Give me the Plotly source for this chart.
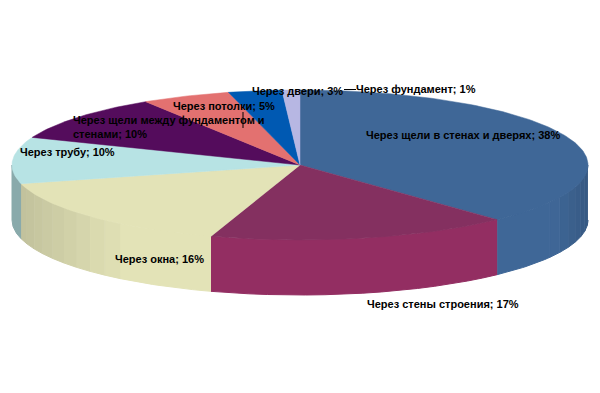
import math
import plotly.graph_objects as go

labels = ["Через щели в стенах и дверях", "Через стены строения", "Через окна", "Через трубу",
          "Через щели между фундаментом и<br>стенами", "Через потолки", "Через двери", "Через фундамент"]
values = [38, 17, 16, 10, 10, 5, 3, 1]
top_colors = ["#3F6797", "#843060", "#E3E3B7", "#B7E3E4", "#540C5C", "#E37170", "#0059B2", "#B7B7E3"]
side_colors = ["#3F6797", "#932E62", "#E3E3B7", "#B7E3E4", "#540C5C", "#E37170", "#0059B2", "#B7B7E3"]
label_x = [364, 365, 113, 18, 71, 171, 250, 354]
label_y = [135, 304, 259, 152, 127, 106, 91, 89]

CX, CY, RX, RY, DEPTH = 300, 165, 288, 75, 55


def pt(deg, dy=0.0):
    a = math.radians(deg)
    return CX + RX * math.sin(a), CY - RY * math.cos(a) + dy


def shade(hex_color, f):
    r, g, b = (int(hex_color[i:i + 2], 16) for i in (1, 3, 5))
    return "#%02X%02X%02X" % (round(r * f), round(g * f), round(b * f))


def side_factor(deg):
    s = math.sin(math.radians(deg))
    if s > 0:
        return 1.0 if s < 0.88 else 1.0 - 1.1 * (s - 0.88)
    t = -s
    return 1.0 if t < 0.6 else 1.0 - 0.40 * (t - 0.6)


fig = go.Figure()
bounds = [0]
for v in values:
    bounds.append(bounds[-1] + v * 3.6)

# side walls: each slice's front rim, split into bands only where the shade changes
for i, v in enumerate(values):
    lo, hi = max(bounds[i], 90), min(bounds[i + 1], 270)
    if lo >= hi:
        continue
    n = max(1, int((hi - lo) / 4))
    bands = []
    for k in range(n):
        a0 = lo + (hi - lo) * k / n
        a1 = lo + (hi - lo) * (k + 1) / n
        f = 0.75 if i == 3 else (1.0 if i == 1 else side_factor((a0 + a1) / 2))
        col = shade(side_colors[i], f)
        if bands and bands[-1][2] == col:
            bands[-1][1] = a1
        else:
            bands.append([a0, a1, col])
    for a0, a1, col in bands:
        steps = [a0 + (a1 - a0) * s / 16 for s in range(17)]
        poly = [pt(a) for a in steps] + [pt(a, DEPTH) for a in reversed(steps)]
        fig.add_trace(go.Scatter(x=[p[0] for p in poly], y=[p[1] for p in poly], mode="lines",
                                 fill="toself", fillcolor=col, line=dict(color=col, width=1),
                                 hoverinfo="skip", showlegend=False))

# top faces
for i, v in enumerate(values):
    n = max(4, int(v * 3.6))
    rim = [pt(bounds[i] + (bounds[i + 1] - bounds[i]) * k / n) for k in range(n + 1)]
    poly = [(CX, CY)] + rim + [(CX, CY)]
    fig.add_trace(go.Scatter(x=[p[0] for p in poly], y=[p[1] for p in poly], mode="lines",
                             fill="toself", fillcolor=top_colors[i], line=dict(color=top_colors[i], width=0.5),
                             hoverinfo="skip", showlegend=False))

# leader lines
fig.add_trace(go.Scatter(x=[243, 243, None, 344, 356], y=[112, 128, None, 89.5, 89.5], mode="lines",
                         line=dict(color="#000000", width=1), hoverinfo="skip", showlegend=False))

for name, v, x, y in zip(labels, values, label_x, label_y):
    fig.add_annotation(x=x, y=y, xref="x", yref="y", text=f"<b>{name}; {v}%</b>", showarrow=False,
                       xanchor="left", yanchor="middle", align="left",
                       font=dict(family="Liberation Sans", size=11, color="#000000"))

fig.update_layout(width=600, height=393, margin=dict(l=0, r=0, t=0, b=0), autosize=False,
                  paper_bgcolor="#FFFFFF", plot_bgcolor="#FFFFFF", showlegend=False,
                  xaxis=dict(range=[0, 600], visible=False, fixedrange=True),
                  yaxis=dict(range=[393, 0], visible=False, fixedrange=True))
fig.write_html("out.html", config={"displayModeBar": False},
               post_script="document.body.style.margin='0';document.body.style.overflow='hidden';")
